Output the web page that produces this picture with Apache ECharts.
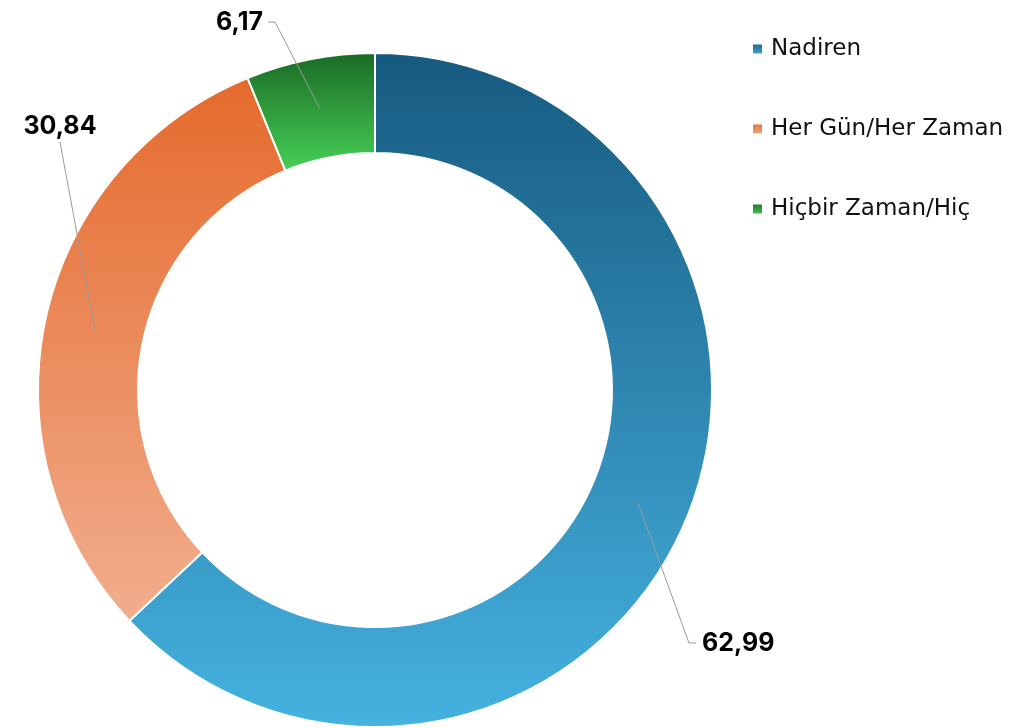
<!DOCTYPE html>
<html>
<head>
<meta charset="utf-8">
<script src="https://cdn.jsdelivr.net/npm/echarts@6/dist/echarts.min.js"></script>
<style>
  html, body { margin: 0; padding: 0; background: #fff; }
  #main { width: 1022px; height: 728px; }
</style>
</head>
<body>
<div id="main"></div>
<script>
// veriler
var categories = ['Nadiren', 'Her Gün/Her Zaman', 'Hiçbir Zaman/Hiç'];
var values = [62.99, 30.84, 6.17];
var labelsText = ['62,99', '30,84', '6,17'];

// dilim renkleri (üst -> alt)
var colorsTop = ['#175a80', '#e56a2c', '#1a6a24'];
var colorsBottom = ['#45b2e0', '#f1ae8e', '#46d057'];

// halka geometrisi
var CX = 375, CY = 390, R_IN = 237, R_OUT = 337;
var R_MID = (R_IN + R_OUT) / 2;

// etiket yerleşimi: [x, y, hizalama]
var labelPos = [
    [702, 643, 'left'],
    [60, 126, 'center'],
    [263, 22, 'right']
];

function grad(i) {
    return new echarts.graphic.LinearGradient(0, 0, 0, 1, [
        { offset: 0, color: colorsTop[i] },
        { offset: 1, color: colorsBottom[i] }
    ]);
}

// dilimin orta açısında, halkanın ortasındaki nokta
function midPoint(i) {
    var total = 0, before = 0;
    for (var k = 0; k < values.length; k++) {
        total += values[k];
        if (k < i) before += values[k];
    }
    var a = (before + values[i] / 2) / total * Math.PI * 2;
    return [CX + R_MID * Math.sin(a), CY - R_MID * Math.cos(a)];
}

var myChart = echarts.init(document.getElementById('main'));

var ringData = categories.map(function (name, i) {
    return { name: name, value: values[i], itemStyle: { color: grad(i) } };
});
var labelData = categories.map(function (name, i) {
    return { name: name, value: values[i] };
});

var option = {
    backgroundColor: '#fff',
    animation: false,
    legend: {
        orient: 'vertical',
        left: 746,
        top: 32,
        itemWidth: 11,
        itemHeight: 11,
        itemGap: 56,
        icon: 'rect',
        textStyle: {
            fontFamily: 'DejaVu Sans',
            fontSize: 23,
            lineHeight: 24,
            color: '#111',
            padding: [0, 0, 0, 3]
        },
        data: categories
    },
    series: [
        {
            type: 'pie',
            z: 2,
            center: [CX, CY],
            radius: [R_IN, R_OUT],
            startAngle: 90,
            label: { show: false },
            labelLine: { show: false },
            itemStyle: { borderColor: '#fff', borderWidth: 2 },
            emphasis: { disabled: true },
            data: ringData
        },
        {
            // sadece etiketler için görünmez halka
            type: 'pie',
            z: 5,
            center: [CX, CY],
            radius: [0, R_MID],
            startAngle: 90,
            silent: true,
            itemStyle: { color: 'rgba(0,0,0,0)' },
            emphasis: { disabled: true },
            label: {
                show: true,
                position: 'outside',
                overflow: 'none',
                formatter: function (p) { return labelsText[p.dataIndex]; },
                fontFamily: 'Inter',
                fontWeight: 'bold',
                fontSize: 25,
                color: '#000'
            },
            labelLine: {
                show: true,
                length: 10,
                length2: 10,
                lineStyle: { color: '#9a9a9a', width: 1 }
            },
            labelLayout: function (params) {
                var i = params.dataIndex;
                var pos = labelPos[i];
                var p0 = midPoint(i);
                var pts;
                if (pos[2] === 'left') {
                    pts = [p0, [pos[0] - 13, pos[1]], [pos[0] - 6, pos[1]]];
                } else if (pos[2] === 'right') {
                    pts = [p0, [pos[0] + 12, pos[1]], [pos[0] + 5, pos[1]]];
                } else {
                    pts = [p0, [pos[0], pos[1] + 16], [pos[0], pos[1] + 16]];
                }
                return {
                    x: pos[0],
                    y: pos[1],
                    width: 120,
                    align: pos[2],
                    verticalAlign: 'middle',
                    labelLinePoints: pts
                };
            },
            data: labelData
        }
    ]
};

myChart.setOption(option);
</script>
</body>
</html>
